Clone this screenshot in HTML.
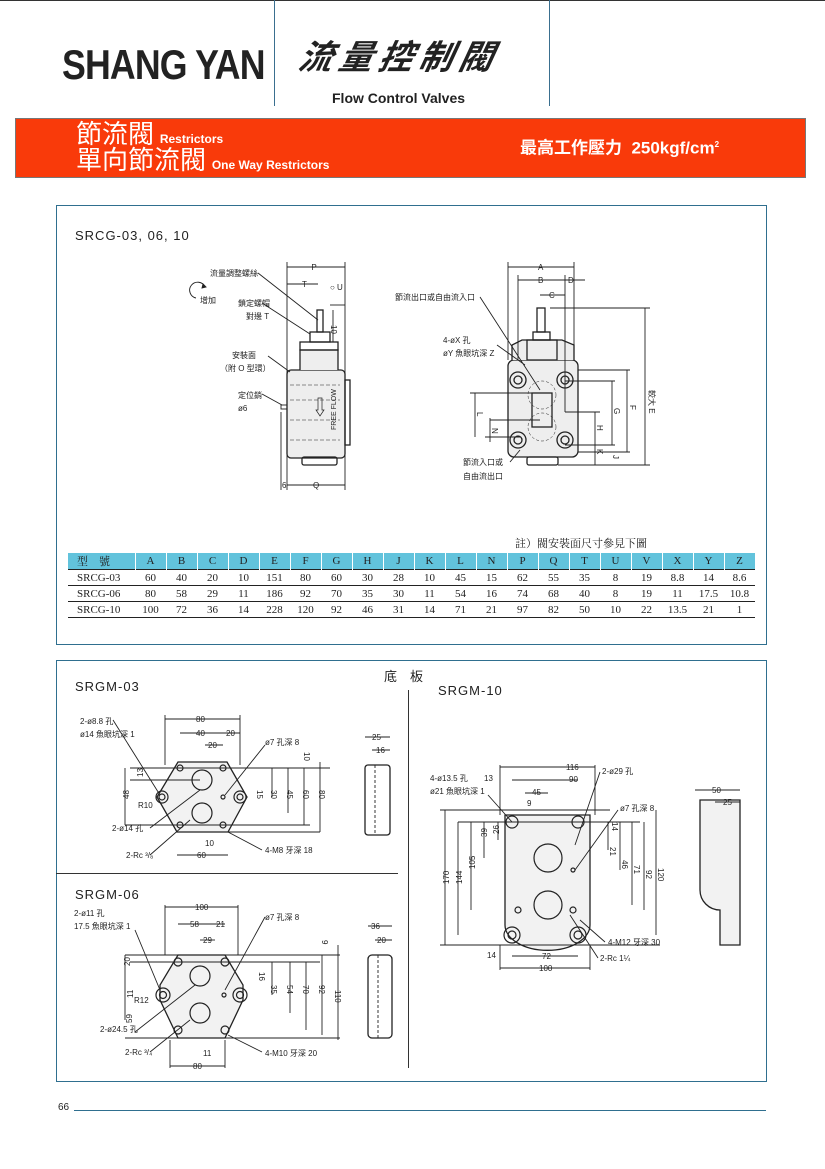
<!DOCTYPE html>
<html><head><meta charset="utf-8"><style>
html,body{margin:0;padding:0;background:#fff;}
body{width:825px;height:1169px;position:relative;overflow:hidden;font-family:"Liberation Sans","Noto Sans CJK TC",sans-serif;}
.a{position:absolute;white-space:nowrap;}
table{position:absolute;left:68px;top:553px;width:687px;table-layout:fixed;border-collapse:collapse;font-family:"Liberation Serif","Noto Serif CJK SC",serif;font-size:11px;color:#222;}
td{height:16px;padding:0;text-align:center;box-sizing:border-box;overflow:hidden;}
td:first-child{text-align:left;padding-left:9px;}
tr.h td{background:#62c3dc;border-right:1px solid #fff;}
tr{border-bottom:1px solid #222;}
tr:last-child{border-bottom:1.5px solid #222;}
</style></head><body>
<div class="a" style="left:0;top:0;width:825px;height:1px;background:#333"></div>
<div class="a" style="left:274px;top:0;width:1px;height:106px;background:#3a6f8f"></div>
<div class="a" style="left:549px;top:0;width:1px;height:106px;background:#3a6f8f"></div>
<div class="a" style="left:62px;top:40px;font:bold 42px/50px 'Liberation Sans',sans-serif;color:#222;transform:scaleX(0.85);transform-origin:left;letter-spacing:-1px">SHANG YAN</div>
<div class="a" style="left:300px;top:34px;font:italic bold 34px/42px 'Noto Sans CJK TC',sans-serif;color:#222;letter-spacing:6px;transform:skewX(-12deg)">流量控制閥</div>
<div class="a" style="left:332px;top:89px;font:bold 14px/18px 'Liberation Sans',sans-serif;color:#222">Flow Control Valves</div>
<div class="a" style="left:15px;top:118px;width:789px;height:58px;background:#f93a0a;border:1px solid #777"></div>
<div class="a" style="left:76px;top:119px;color:#fff;font:26px/28px 'Noto Sans CJK TC',sans-serif">節流閥 <span style="font:bold 12px 'Liberation Sans',sans-serif">Restrictors</span></div>
<div class="a" style="left:76px;top:145px;color:#fff;font:26px/28px 'Noto Sans CJK TC',sans-serif">單向節流閥 <span style="font:bold 12px 'Liberation Sans',sans-serif">One Way Restrictors</span></div>
<div class="a" style="left:520px;top:134px;color:#fff;font:bold 17px/22px 'Liberation Sans','Noto Sans CJK TC',sans-serif">最高工作壓力&nbsp; 250kgf/cm<sup style="font-size:8px">2</sup></div>

<div class="a" style="left:56px;top:205px;width:709px;height:438px;border:1px solid #2f6f8f"></div>
<div class="a" style="left:75px;top:228px;font-size:13px;letter-spacing:1px;color:#222">SRCG-03, 06, 10</div>
<div class="a" style="left:515px;top:535px;font:11px 'Noto Serif CJK SC',serif;color:#222">註）閥安裝面尺寸參見下圖</div>
<table>
<colgroup><col style="width:67px"><col span="20" style="width:31px"></colgroup>
<tr class="h"><td>型　號</td><td>A</td><td>B</td><td>C</td><td>D</td><td>E</td><td>F</td><td>G</td><td>H</td><td>J</td><td>K</td><td>L</td><td>N</td><td>P</td><td>Q</td><td>T</td><td>U</td><td>V</td><td>X</td><td>Y</td><td>Z</td></tr>
<tr><td>SRCG-03</td><td>60</td><td>40</td><td>20</td><td>10</td><td>151</td><td>80</td><td>60</td><td>30</td><td>28</td><td>10</td><td>45</td><td>15</td><td>62</td><td>55</td><td>35</td><td>8</td><td>19</td><td>8.8</td><td>14</td><td>8.6</td></tr>
<tr><td>SRCG-06</td><td>80</td><td>58</td><td>29</td><td>11</td><td>186</td><td>92</td><td>70</td><td>35</td><td>30</td><td>11</td><td>54</td><td>16</td><td>74</td><td>68</td><td>40</td><td>8</td><td>19</td><td>11</td><td>17.5</td><td>10.8</td></tr>
<tr><td>SRCG-10</td><td>100</td><td>72</td><td>36</td><td>14</td><td>228</td><td>120</td><td>92</td><td>46</td><td>31</td><td>14</td><td>71</td><td>21</td><td>97</td><td>82</td><td>50</td><td>10</td><td>22</td><td>13.5</td><td>21</td><td>1</td></tr>
</table>

<div class="a" style="left:56px;top:660px;width:709px;height:420px;border:1px solid #2f6f8f"></div>
<div class="a" style="left:384px;top:666px;font:13px 'Noto Sans CJK TC',sans-serif;color:#222">底　板</div>
<div class="a" style="left:75px;top:679px;font-size:13px;letter-spacing:1px;color:#222">SRGM-03</div>
<div class="a" style="left:438px;top:683px;font-size:13px;letter-spacing:1px;color:#222">SRGM-10</div>
<div class="a" style="left:75px;top:887px;font-size:13px;letter-spacing:1px;color:#222">SRGM-06</div>
<div class="a" style="left:56px;top:873px;width:342px;height:1px;background:#333"></div>
<div class="a" style="left:408px;top:690px;width:1px;height:378px;background:#333"></div>
<div class="a" style="left:58px;top:1102px;font-size:10px;color:#222">66</div>
<div class="a" style="left:74px;top:1110px;width:692px;height:1px;background:#2f6f8f"></div>

<svg class="a" style="left:0;top:0" width="825" height="1169" viewBox="0 0 825 1169" font-family="Liberation Sans,Noto Sans CJK TC,sans-serif" font-size="8" fill="none" stroke="#222" stroke-width="0.9">
<!-- valve side view -->
<g>
<rect x="287" y="370" width="58" height="88" rx="4" fill="#eee" stroke-width="1.3"/>
<path d="M300 370 V350 H338 V370" fill="#eee" stroke-width="1.3"/>
<rect x="310" y="332" width="20" height="10" stroke-width="1.3"/><rect x="300" y="342" width="38" height="8" stroke-width="1.3"/>
<rect x="317" y="310" width="6" height="22" stroke-width="1.3"/>
<rect x="302" y="457" width="35" height="8" rx="2" stroke-width="1.3"/>
<rect x="345" y="380" width="5" height="65" stroke-width="1.3"/>
<g stroke-dasharray="4 2" stroke-width="0.6"><line x1="290" y1="385" x2="340" y2="385"/><line x1="290" y1="400" x2="340" y2="400"/><line x1="290" y1="420" x2="340" y2="420"/><line x1="290" y1="440" x2="340" y2="440"/></g>
<path d="M318 398 v12 h-2 l4 6 4 -6 h-2 v-12z" stroke-width="0.7"/>
<text x="336" y="430" fill="#222" stroke="none" font-size="7" transform="rotate(-90 336 430)">FREE FLOW</text>
<rect x="281" y="405" width="6" height="4"/>
<line x1="287" y1="262" x2="287" y2="490"/><line x1="345" y1="262" x2="345" y2="490"/>
<line x1="287" y1="267" x2="345" y2="267"/><line x1="287" y1="284" x2="318" y2="284"/>
<line x1="287" y1="485" x2="345" y2="485"/><line x1="281" y1="412" x2="281" y2="490"/>
<line x1="330" y1="305" x2="345" y2="305"/><line x1="333" y1="310" x2="333" y2="342"/>
<path d="M258 273 L318 320 M262 303 L310 334 M268 356 L290 372 M262 394 L282 405"/>
<path d="M196 298 A8 8 0 1 1 205 287" /><path d="M203 284 l3 3 -4 1z" fill="#222"/>
</g>
<g fill="#222" stroke="none">
<text x="314" y="270" text-anchor="middle">P</text><text x="302" y="287">T</text><text x="330" y="290">○ U</text>
<text x="338" y="332" transform="rotate(90 338 325)">10</text>
<text x="313" y="488">Q</text><text x="282" y="488">6</text>
<text x="210" y="276">流量調整螺絲</text><text x="200" y="303">增加</text>
<text x="238" y="306">鎖定螺帽</text><text x="246" y="319">對邊 T</text>
<text x="232" y="358">安裝面</text><text x="220" y="371">（附 O 型環）</text>
<text x="238" y="398">定位銷</text><text x="238" y="411">ø6</text>
</g>
<!-- valve front view -->
<g>
<rect x="508" y="360" width="70" height="97" rx="6" fill="#eee" stroke-width="1.3"/>
<path d="M512 360 V345 L522 340 H562 L574 345 V360" fill="#eee" stroke-width="1.3"/>
<rect x="527" y="340" width="30" height="20" stroke-width="1.3"/><rect x="533" y="332" width="17" height="8" stroke-width="1.3"/>
<rect x="537" y="308" width="8" height="24" stroke-width="1.3"/>
<rect x="527" y="457" width="31" height="8" rx="2" stroke-width="1.3"/>
<g stroke-width="1.3">
<circle cx="518" cy="380" r="8"/><circle cx="518" cy="380" r="4"/>
<circle cx="565" cy="380" r="8"/><circle cx="565" cy="380" r="4"/>
<circle cx="518" cy="440" r="8"/><circle cx="518" cy="440" r="4"/>
<circle cx="565" cy="440" r="8"/><circle cx="565" cy="440" r="4"/>
<rect x="532" y="393" width="20" height="34"/></g>
<circle cx="542" cy="395" r="14" stroke-dasharray="3 2" stroke-width="0.5"/><circle cx="542" cy="427" r="14" stroke-dasharray="3 2" stroke-width="0.5"/>
<line x1="508" y1="262" x2="508" y2="360"/><line x1="574" y1="262" x2="574" y2="360"/>
<line x1="518" y1="275" x2="518" y2="360"/><line x1="565" y1="275" x2="565" y2="412"/>
<line x1="508" y1="267" x2="574" y2="267"/><line x1="518" y1="280" x2="585" y2="280"/><line x1="540" y1="295" x2="565" y2="295"/>
<line x1="550" y1="308" x2="650" y2="308"/><line x1="645" y1="308" x2="645" y2="465"/>
<line x1="578" y1="370" x2="630" y2="370"/><line x1="627" y1="370" x2="627" y2="452"/>
<line x1="565" y1="381" x2="615" y2="381"/><line x1="612" y1="381" x2="612" y2="445"/>
<line x1="470" y1="393" x2="540" y2="393"/><line x1="475" y1="393" x2="475" y2="437"/>
<line x1="490" y1="420" x2="540" y2="420"/><line x1="490" y1="418" x2="490" y2="442"/>
<line x1="565" y1="412" x2="600" y2="412"/><line x1="595" y1="412" x2="595" y2="465"/>
<line x1="485" y1="437" x2="520" y2="437"/><line x1="565" y1="445" x2="615" y2="445"/>
<line x1="558" y1="465" x2="650" y2="465"/><line x1="578" y1="452" x2="630" y2="452"/>
<path d="M480 297 L540 390 M497 345 L525 365 M510 462 L520 450"/>
</g>
<g fill="#222" stroke="none">
<text x="538" y="270">A</text><text x="538" y="283">B</text><text x="568" y="283">D</text><text x="549" y="298">C</text>
<text x="395" y="300">節流出口或自由流入口</text>
<text x="443" y="343">4-øX 孔</text><text x="443" y="356">øY 魚眼坑深 Z</text>
<text x="463" y="465">節流入口或</text><text x="463" y="479">自由流出口</text>
<text x="649" y="390" transform="rotate(90 649 390)">較大 E</text>
<text x="630" y="405" transform="rotate(90 630 405)">F</text>
<text x="614" y="408" transform="rotate(90 614 408)">G</text>
<text x="597" y="425" transform="rotate(90 597 425)">H</text>
<text x="597" y="449" transform="rotate(90 597 449)">K</text>
<text x="613" y="455" transform="rotate(90 613 455)">J</text>
<text x="477" y="412" transform="rotate(90 477 412)">L</text>
<text x="492" y="428" transform="rotate(90 492 428)">N</text>
</g>
<!-- SRGM-03 -->
<g>
<path d="M178 762 H227 L247 797 L228 832 H177 L157 797 Z" fill="#f2f2f2" stroke-width="1.3"/>
<g stroke-width="1.2">
<circle cx="180" cy="768" r="3"/><circle cx="223" cy="768" r="3"/><circle cx="180" cy="825" r="3"/><circle cx="223" cy="825" r="3"/>
<circle cx="162" cy="797" r="6"/><circle cx="162" cy="797" r="3"/><circle cx="240" cy="797" r="6"/><circle cx="240" cy="797" r="3"/>
<circle cx="202" cy="780" r="10"/><circle cx="202" cy="813" r="10"/><circle cx="223" cy="797" r="2"/></g>
<line x1="165" y1="715" x2="165" y2="765"/><line x1="240" y1="715" x2="240" y2="765"/><line x1="165" y1="719" x2="240" y2="719"/>
<line x1="180" y1="733" x2="240" y2="733"/><line x1="205" y1="745" x2="223" y2="745"/>
<line x1="130" y1="768" x2="330" y2="768"/><line x1="130" y1="780" x2="200" y2="780"/><line x1="125" y1="825" x2="310" y2="825"/>
<line x1="125" y1="768" x2="125" y2="825"/><line x1="320" y1="762" x2="320" y2="832"/><line x1="304" y1="768" x2="304" y2="825"/>
<line x1="288" y1="768" x2="288" y2="813"/><line x1="272" y1="768" x2="272" y2="797"/>
<line x1="177" y1="855" x2="228" y2="855"/><line x1="228" y1="832" x2="320" y2="832"/>
<path d="M113 720 L160 795 M150 828 L200 790 M150 855 L190 820 M262 850 L228 832 M265 745 L225 795"/>
<rect x="365" y="765" width="25" height="70" rx="3" stroke-width="1.3"/><line x1="375" y1="765" x2="375" y2="835" stroke-dasharray="3 2"/>
<line x1="365" y1="737" x2="390" y2="737"/><line x1="372" y1="750" x2="390" y2="750"/>
</g>
<g fill="#222" stroke="none">
<text x="80" y="724">2-ø8.8 孔</text><text x="80" y="737">ø14 魚眼坑深 1</text>
<text x="196" y="722">80</text><text x="196" y="736">40</text><text x="226" y="736">20</text><text x="208" y="748">20</text>
<text x="265" y="745">ø7 孔深 8</text><text x="112" y="831">2-ø14 孔</text><text x="126" y="858">2-Rc ³/₈</text>
<text x="197" y="858">60</text><text x="205" y="846">10</text><text x="265" y="853">4-M8 牙深 18</text><text x="138" y="808">R10</text>
<text x="120" y="800" transform="rotate(-90 124 795)">48</text><text x="138" y="778" transform="rotate(-90 140 775)">13</text>
<text x="260" y="793" transform="rotate(90 260 790)">15</text><text x="274" y="793" transform="rotate(90 274 790)">30</text>
<text x="290" y="793" transform="rotate(90 290 790)">45</text><text x="306" y="793" transform="rotate(90 306 790)">60</text>
<text x="322" y="793" transform="rotate(90 322 790)">80</text><text x="304" y="752" transform="rotate(90 304 752)">10</text>
<text x="372" y="740">25</text><text x="376" y="753">16</text>
</g>
<!-- SRGM-06 -->
<g>
<path d="M178 955 H225 L243 985 V1000 L225 1038 H178 L160 1000 V985 Z" fill="#f2f2f2" stroke-width="1.3"/>
<g stroke-width="1.2">
<circle cx="178" cy="962" r="4"/><circle cx="225" cy="962" r="4"/><circle cx="178" cy="1030" r="4"/><circle cx="225" cy="1030" r="4"/>
<circle cx="163" cy="995" r="7"/><circle cx="163" cy="995" r="3.5"/><circle cx="240" cy="995" r="7"/><circle cx="240" cy="995" r="3.5"/>
<circle cx="200" cy="976" r="10"/><circle cx="200" cy="1013" r="10"/><circle cx="224" cy="995" r="2"/></g>
<line x1="165" y1="907" x2="238" y2="907"/><line x1="178" y1="924" x2="225" y2="924"/><line x1="200" y1="940" x2="215" y2="940"/>
<line x1="165" y1="905" x2="165" y2="955"/><line x1="238" y1="905" x2="238" y2="955"/>
<line x1="125" y1="955" x2="340" y2="955"/><line x1="125" y1="1038" x2="340" y2="1038"/><line x1="130" y1="962" x2="320" y2="962"/>
<line x1="125" y1="955" x2="125" y2="1020"/><line x1="338" y1="945" x2="338" y2="1040"/><line x1="322" y1="955" x2="322" y2="1035"/>
<line x1="306" y1="962" x2="306" y2="1030"/><line x1="290" y1="962" x2="290" y2="1013"/><line x1="272" y1="962" x2="272" y2="995"/>
<line x1="170" y1="1066" x2="225" y2="1066"/><line x1="170" y1="1040" x2="170" y2="1068"/><line x1="225" y1="1040" x2="225" y2="1068"/>
<path d="M135 930 L160 990 M135 1032 L195 985 M150 1052 L190 1020 M262 1052 L228 1035 M265 917 L225 990"/>
<rect x="368" y="955" width="24" height="83" rx="4" stroke-width="1.3"/><line x1="378" y1="955" x2="378" y2="1038" stroke-dasharray="3 2"/>
<line x1="368" y1="926" x2="392" y2="926"/><line x1="375" y1="940" x2="392" y2="940"/>
</g>
<g fill="#222" stroke="none">
<text x="74" y="916">2-ø11 孔</text><text x="74" y="929">17.5 魚眼坑深 1</text>
<text x="195" y="910">100</text><text x="190" y="927">58</text><text x="216" y="927">21</text><text x="203" y="943">29</text>
<text x="265" y="920">ø7 孔深 8</text><text x="100" y="1032">2-ø24.5 孔</text><text x="125" y="1055">2-Rc ³/₄</text>
<text x="203" y="1056">11</text><text x="193" y="1069">80</text><text x="265" y="1056">4-M10 牙深 20</text><text x="134" y="1003">R12</text>
<text x="125" y="965" transform="rotate(-90 128 963)">20</text><text x="125" y="1000" transform="rotate(-90 128 995)">11</text>
<text x="125" y="1024" transform="rotate(-90 128 1020)">59</text>
<text x="262" y="975" transform="rotate(90 262 972)">16</text><text x="276" y="990" transform="rotate(90 276 985)">35</text>
<text x="292" y="990" transform="rotate(90 292 985)">54</text><text x="308" y="990" transform="rotate(90 308 985)">70</text>
<text x="324" y="990" transform="rotate(90 324 985)">92</text><text x="340" y="995" transform="rotate(90 340 990)">110</text>
<text x="322" y="940" transform="rotate(90 322 940)">9</text>
<text x="371" y="929">36</text><text x="377" y="943">20</text>
</g>
<!-- SRGM-10 -->
<g>
<path d="M505 815 H590 V925 A42 25 0 0 1 505 925 Z" fill="#f2f2f2" stroke-width="1.3"/>
<g stroke-width="1.2">
<circle cx="512" cy="822" r="6"/><circle cx="578" cy="822" r="6"/>
<circle cx="512" cy="935" r="8"/><circle cx="512" cy="935" r="4"/><circle cx="578" cy="935" r="8"/><circle cx="578" cy="935" r="4"/>
<circle cx="518" cy="910" r="3"/><circle cx="573" cy="910" r="3"/><circle cx="573" cy="870" r="2"/>
<circle cx="548" cy="858" r="14"/><circle cx="548" cy="905" r="14"/></g>
<line x1="500" y1="767" x2="595" y2="767"/><line x1="512" y1="780" x2="578" y2="780"/><line x1="525" y1="793" x2="548" y2="793"/>
<line x1="500" y1="765" x2="500" y2="815"/><line x1="595" y1="765" x2="595" y2="815"/>
<line x1="440" y1="810" x2="610" y2="810"/><line x1="440" y1="945" x2="660" y2="945"/>
<line x1="445" y1="810" x2="445" y2="945"/><line x1="458" y1="822" x2="458" y2="935"/><line x1="471" y1="822" x2="471" y2="910"/>
<line x1="458" y1="822" x2="640" y2="822"/><line x1="484" y1="822" x2="484" y2="858"/><line x1="498" y1="822" x2="498" y2="840"/>
<line x1="656" y1="810" x2="656" y2="935"/><line x1="644" y1="822" x2="644" y2="910"/><line x1="632" y1="822" x2="632" y2="905"/>
<line x1="620" y1="822" x2="620" y2="870"/><line x1="608" y1="822" x2="608" y2="850"/>
<line x1="500" y1="968" x2="590" y2="968"/><line x1="512" y1="956" x2="578" y2="956"/><line x1="500" y1="945" x2="500" y2="970"/><line x1="590" y1="945" x2="590" y2="970"/>
<path d="M488 795 L512 822 M600 772 L575 845 M618 810 L575 870 M605 942 L580 920 M598 958 L570 915"/>
<path d="M700 800 H740 V945 H720 V910 A20 20 0 0 1 700 890 Z" fill="#f2f2f2" stroke-width="1.3"/>
<line x1="695" y1="790" x2="740" y2="790"/><line x1="715" y1="802" x2="740" y2="802"/>
</g>
<g fill="#222" stroke="none">
<text x="430" y="781">4-ø13.5 孔</text><text x="430" y="794">ø21 魚眼坑深 1</text>
<text x="566" y="770">116</text><text x="569" y="782">90</text><text x="532" y="795">45</text><text x="527" y="806">9</text><text x="484" y="781">13</text>
<text x="602" y="774">2-ø29 孔</text><text x="620" y="811">ø7 孔深 8</text>
<text x="487" y="958">14</text><text x="542" y="959">72</text><text x="539" y="971">100</text>
<text x="608" y="945">4-M12 牙深 30</text><text x="600" y="961">2-Rc 1¼</text>
<text x="440" y="885" transform="rotate(-90 444 880)">170</text><text x="453" y="885" transform="rotate(-90 457 880)">144</text>
<text x="466" y="870" transform="rotate(-90 470 865)">105</text><text x="480" y="840" transform="rotate(-90 482 835)">39</text>
<text x="494" y="835" transform="rotate(-90 496 832)">26</text>
<text x="610" y="847" transform="rotate(90 610 847)">21</text><text x="622" y="860" transform="rotate(90 622 860)">46</text>
<text x="634" y="865" transform="rotate(90 634 865)">71</text><text x="646" y="870" transform="rotate(90 646 870)">92</text>
<text x="658" y="868" transform="rotate(90 658 868)">120</text><text x="612" y="822" transform="rotate(90 612 822)">14</text>
<text x="712" y="793">50</text><text x="723" y="805">25</text>
</g>
</svg>
</body></html>
